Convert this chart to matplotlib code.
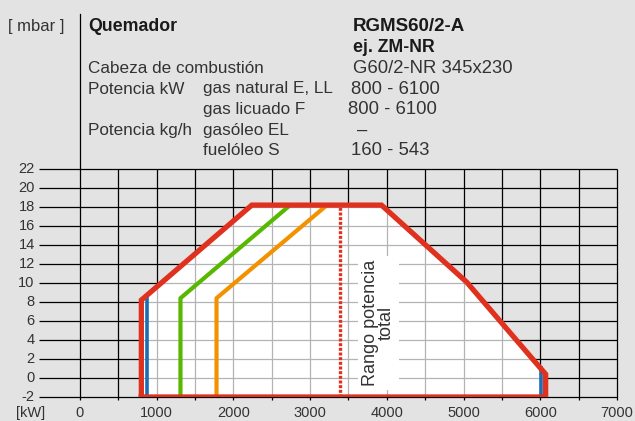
import matplotlib
matplotlib.use('Agg')
import matplotlib.pyplot as plt
from matplotlib.patches import Polygon

plt.rcParams['font.family'] = ['Liberation Sans', 'DejaVu Sans']

# ------------------------------------------------------------------
# DATA (kW vs mbar)
red_kw    = [800, 800, 2240, 3930, 5040, 6070, 6070, 800]     # total working range
red_mbar  = [-2, 8.2, 18.2, 18.2, 10.1, 0.4, -2, -2]
blue_l_kw = [870, 870]
blue_l_mb = [-2, 8.7]
blue_r_kw = [6005, 6005]
blue_r_mb = [-2, 1.3]
green_kw  = [1310, 1310, 2740]
green_mb  = [-2, 8.4, 18.2]
orange_kw = [1780, 1780, 3220]
orange_mb = [-2, 8.4, 18.2]
dot_kw    = [3395, 3395]
dot_mb    = [-2, 18.2]

xticks = [0, 1000, 2000, 3000, 4000, 5000, 6000, 7000]
yticks = [-2, 0, 2, 4, 6, 8, 10, 12, 14, 16, 18, 20, 22]
xgrid = [0, 500, 1000, 1500, 2000, 2500, 3000, 3500, 4000, 4500, 5000, 5500, 6000, 6500, 7000]

header_rows = [
    ('Cabeza de combustión', '', 'G60/2-NR 345x230'),
    ('Potencia kW', 'gas natural E, LL', '800 - 6100'),
    ('', 'gas licuado F', '800 - 6100'),
    ('Potencia kg/h', 'gasóleo EL', '–'),
    ('', 'fuelóleo S', '160 - 543'),
]

# ------------------------------------------------------------------
bg = '#e3e3e3'
W, H = 635, 421
fig = plt.figure(figsize=(6.35, 4.21), dpi=100, facecolor=bg)
ax = fig.add_axes([41.6/W, 24/H, 575.4/W, 228/H])
ax.set_facecolor(bg)
ax.set_xlim(-500, 7000)
ax.set_ylim(-2, 22)
for s in ax.spines.values():
    s.set_visible(False)
ax.set_xticks([])
ax.set_yticks([])

# black grid outside the range
ax.vlines(xgrid, -2.35, 22, colors='black', lw=0.9, zorder=1, clip_on=False)
ax.hlines(yticks, -540, 7000, colors='black', lw=0.9, zorder=1, clip_on=False)
ax.plot([0, 0], [22, 38.3], color='black', lw=0.9, clip_on=False)   # header divider

# white area with grey grid
poly = Polygon(list(zip(red_kw, red_mbar)), closed=True, facecolor='white', edgecolor='none', zorder=2)
ax.add_patch(poly)
gv = ax.vlines(xgrid, -2, 22, colors='#b4b4b4', lw=0.9, zorder=3)
gh = ax.hlines(yticks, -500, 7000, colors='#b4b4b4', lw=0.9, zorder=3)
gv.set_clip_path(poly)
gh.set_clip_path(poly)

# curves
ax.plot(blue_l_kw, blue_l_mb, color='#1c6db3', lw=2.6, zorder=5, solid_capstyle='butt')
ax.plot(blue_r_kw, blue_r_mb, color='#1c6db3', lw=2.6, zorder=5, solid_capstyle='butt')
ax.plot(green_kw, green_mb, color='#58b800', lw=3.0, zorder=5, solid_capstyle='butt')
ax.plot(orange_kw, orange_mb, color='#f39200', lw=3.0, zorder=5, solid_capstyle='butt')
ax.plot(dot_kw, dot_mb, color='#e0301e', lw=2.4, ls=(0, (0.9, 0.5)), zorder=5)
ax.plot(red_kw, red_mbar, color='#e0301e', lw=3.8, zorder=6, solid_joinstyle='miter')

ax.text(3885, 5.8, 'Rango potencia\ntotal', rotation=90, ha='center', va='center',
        multialignment='center', fontsize=13, linespacing=0.9, color='#333333', zorder=4,
        bbox=dict(facecolor='white', edgecolor='none', pad=3))

# tick labels
for x in xticks:
    ax.text(x, -2.9, str(x), ha='center', va='top', fontsize=10.5, color='#333333', clip_on=False)
for y in yticks:
    ax.text(-590, y, str(y), ha='right', va='center', fontsize=10.5, color='#333333', clip_on=False)
fig.text(31/W, 1 - 413/H, '[kW]', ha='center', va='center', fontsize=10.5, color='#333333')

# header
def ftxt(x, y, s, size=12.3, weight='normal', col='#333333'):
    fig.text(x/W, 1 - y/H, s, ha='left', va='baseline', fontsize=size,
             fontweight=weight, color=col)

ftxt(8, 31, '[ mbar ]', size=12)
ftxt(88, 31, 'Quemador', size=12.8, weight='bold', col='#1a1a1a')
ftxt(353, 31, 'RGMS60/2-A', size=13.5, weight='bold', col='#1a1a1a')
ftxt(353, 51.5, 'ej. ZM-NR', size=12.8, weight='bold', col='#1a1a1a')
col3_x = [353, 351, 348, 357, 351]
for i, (a, b, c) in enumerate(header_rows):
    yb = 73 + i * 20.5
    ftxt(88, yb, a)
    ftxt(203, yb, b)
    ftxt(col3_x[i], yb, c, size=13.3)

plt.savefig('out.png', dpi=100, facecolor=bg)
